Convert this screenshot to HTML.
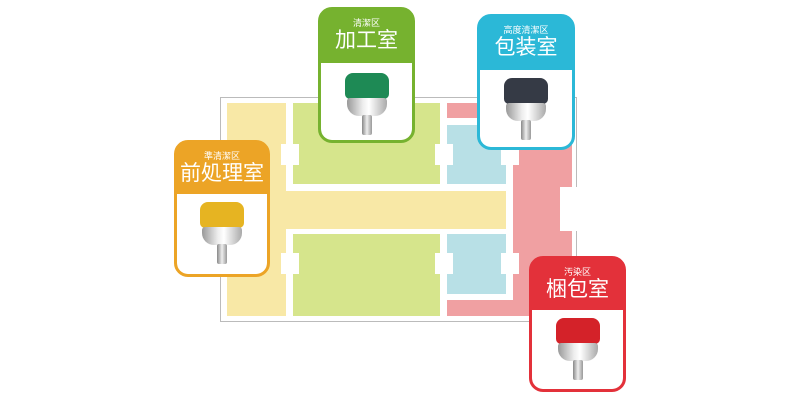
<!DOCTYPE html>
<html><head><meta charset="utf-8"><style>
body{margin:0;width:800px;height:400px;background:#fff;position:relative;overflow:hidden;font-family:"Liberation Sans","Noto Sans CJK SC",sans-serif}
.a{position:absolute}
.card{position:absolute;border-radius:14px;box-sizing:border-box;border:3px solid;overflow:hidden}
.card .h{position:absolute;left:0;right:0;top:0;color:#fff;text-align:center}
.card .s{font-size:9px;margin-top:8px;line-height:10px}
.card .t{font-size:21px;line-height:26px}
.card .b{position:absolute;left:0;right:0;bottom:0;background:#fff;border-radius:0 0 10px 10px}
.cap{position:absolute;left:50%;width:44px;margin-left:-22px;height:26px;border-radius:8px 8px 5px 5px}
.ring{position:absolute;left:50%;width:40px;margin-left:-20px;height:18px;border-radius:3px 3px 12px 12px;background:linear-gradient(90deg,#999,#eee 40%,#fff 55%,#aaa)}
.stem{position:absolute;left:50%;width:10px;margin-left:-5px;height:20px;background:linear-gradient(90deg,#888,#eee,#999);border-radius:2px}
</style></head><body>
<div class="a" style="left:220px;top:97px;width:357px;height:225px;border:1px solid #bbb;box-sizing:border-box"></div>
<div class="a" style="left:227px;top:103px;width:59px;height:213px;background:#f8e8a6"></div>
<div class="a" style="left:286px;top:191px;width:220px;height:38px;background:#f8e8a6"></div>
<div class="a" style="left:293px;top:103px;width:147px;height:81px;background:#d6e58c"></div>
<div class="a" style="left:293px;top:234px;width:147px;height:82px;background:#d6e58c"></div>
<div class="a" style="left:447px;top:103px;width:125px;height:15px;background:#f0a0a2"></div>
<div class="a" style="left:513px;top:103px;width:59px;height:213px;background:#f0a0a2"></div>
<div class="a" style="left:447px;top:300px;width:125px;height:16px;background:#f0a0a2"></div>
<div class="a" style="left:447px;top:125px;width:59px;height:59px;background:#b8e0e6"></div>
<div class="a" style="left:447px;top:234px;width:59px;height:60px;background:#b8e0e6"></div>
<div class="a" style="left:560px;top:187px;width:20px;height:44px;background:#fff"></div>
<div class="a" style="left:281px;top:144px;width:18px;height:21px;background:#fff"></div>
<div class="a" style="left:435px;top:144px;width:18px;height:21px;background:#fff"></div>
<div class="a" style="left:501px;top:144px;width:18px;height:21px;background:#fff"></div>
<div class="a" style="left:281px;top:253px;width:18px;height:21px;background:#fff"></div>
<div class="a" style="left:435px;top:253px;width:18px;height:21px;background:#fff"></div>
<div class="a" style="left:501px;top:253px;width:18px;height:21px;background:#fff"></div>

<div class="card" style="left:318px;top:7px;width:97px;height:136px;border-color:#76b22f;background:#76b22f">
<div class="h"><div class="s">清潔区</div><div class="t">加工室</div></div>
<div class="b" style="top:53px"><div class="cap" style="top:10px;background:#1e8a55"></div><div class="ring" style="top:35px"></div><div class="stem" style="top:52px"></div></div></div>

<div class="card" style="left:477px;top:14px;width:98px;height:136px;border-color:#2bb8d7;background:#2bb8d7">
<div class="h"><div class="s">高度清潔区</div><div class="t">包装室</div></div>
<div class="b" style="top:53px"><div class="cap" style="top:8px;background:#353a45"></div><div class="ring" style="top:33px"></div><div class="stem" style="top:50px"></div></div></div>

<div class="card" style="left:174px;top:140px;width:96px;height:137px;border-color:#eca426;background:#eca426">
<div class="h"><div class="s">準清潔区</div><div class="t">前処理室</div></div>
<div class="b" style="top:51px"><div class="cap" style="top:8px;background:#e6b422"></div><div class="ring" style="top:33px"></div><div class="stem" style="top:50px"></div></div></div>

<div class="card" style="left:529px;top:256px;width:97px;height:136px;border-color:#e3313a;background:#e3313a">
<div class="h"><div class="s">汚染区</div><div class="t">梱包室</div></div>
<div class="b" style="top:51px"><div class="cap" style="top:8px;background:#d42229"></div><div class="ring" style="top:33px"></div><div class="stem" style="top:50px"></div></div></div>
</body></html>
